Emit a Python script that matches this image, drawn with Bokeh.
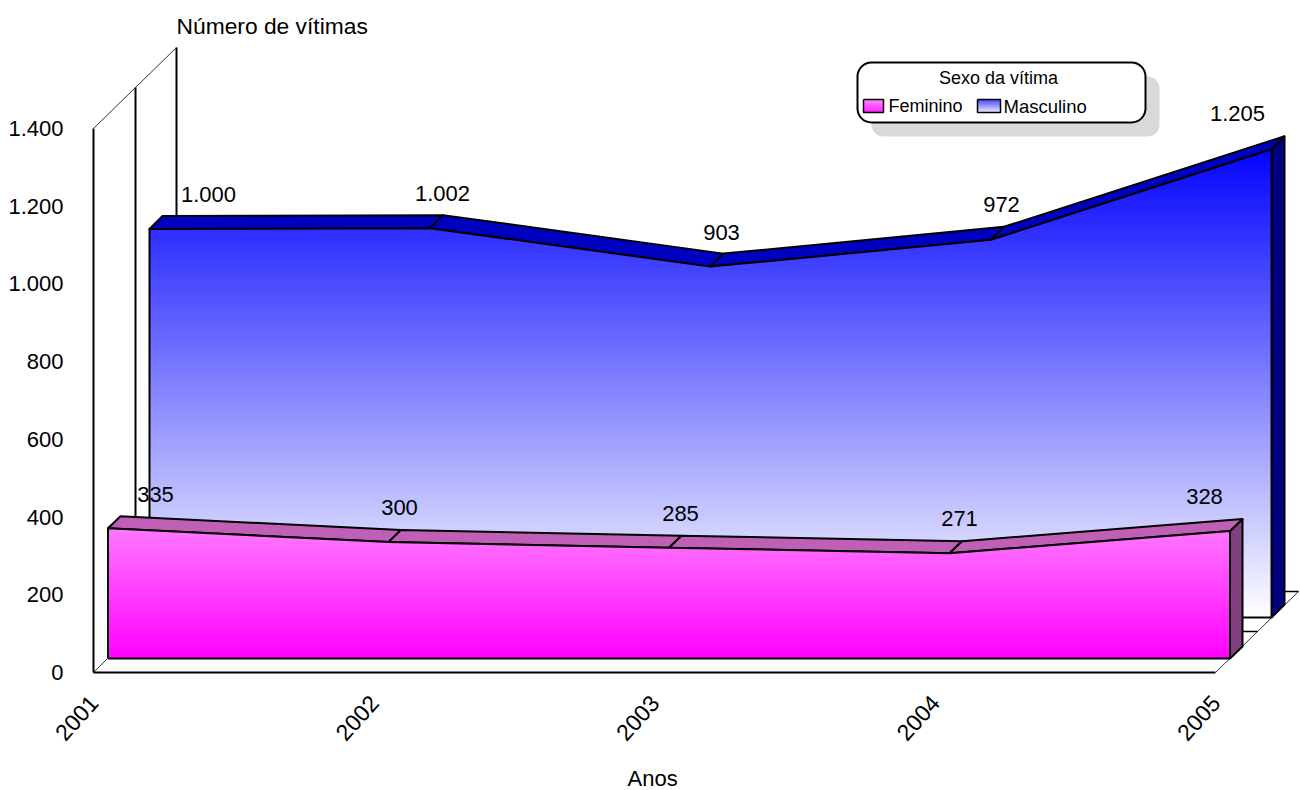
import math
import numpy as np
from bokeh.plotting import figure
from bokeh.models import (Range1d, FixedTicker, BoxAnnotation, Label, ColumnDataSource, Title)
from bokeh.core.properties import value
from bokeh.embed import file_html
from bokeh.resources import INLINE

# ---------- data ----------
years = [2001, 2002, 2003, 2004, 2005]
feminino = [335, 300, 285, 271, 328]
masculino = [1000, 1002, 903, 972, 1205]
feminino_labels = ["335", "300", "285", "271", "328"]
masculino_labels = ["1.000", "1.002", "903", "972", "1.205"]
y_ticks = [0, 200, 400, 600, 800, 1000, 1200, 1400]
y_tick_labels = ["0", "200", "400", "600", "800", "1.000", "1.200", "1.400"]
x_title = "Anos"
y_title = "Número de vítimas"
legend_title = "Sexo da vítima"
legend_names = ["Feminino", "Masculino"]

# ---------- layout ----------
W, H = 1300, 790
PAGE = 0
AX_LEFT, AX_BOTTOM = 93, 672
PX_PER_YEAR = 280.5
PX_PER_UNIT = 544 / 1400
FONT = "Liberation Sans"

def dxd(px):            # horizontal pixels to years
    return px / PX_PER_YEAR
def dyd(px):            # vertical pixels to values
    return px / PX_PER_UNIT
def sx(px):             # page x to data
    return years[0] + (px - AX_LEFT) / PX_PER_YEAR
def sy(px):             # page y to data
    return (AX_BOTTOM - px) / PX_PER_UNIT

p = figure(width=W, height=H, output_backend="svg", toolbar_location=None,
           x_range=Range1d(years[0], sx(PAGE + W)),
           y_range=Range1d(0, sy(PAGE)),
           min_border_left=AX_LEFT - PAGE, min_border_right=0, min_border_top=0,
           min_border_bottom=PAGE + H - AX_BOTTOM,
           background_fill_color="white", border_fill_color="white")
p.outline_line_color = None
p.grid.visible = False

# axes
ya = p.yaxis[0]
ya.ticker = FixedTicker(ticks=y_ticks)
ya.major_label_overrides = dict(zip(y_ticks, y_tick_labels))
ya.bounds = (y_ticks[0], y_ticks[-1])
ya.major_tick_out = 0; ya.major_tick_in = 0; ya.minor_tick_out = 0; ya.minor_tick_in = 0
ya.major_label_standoff = 30
ya.axis_line_width = 2; ya.axis_line_color = "black"
ya.major_label_text_font = FONT; ya.major_label_text_font_size = "22px"
ya.major_label_text_color = "black"

xa = p.xaxis[0]
xa.ticker = FixedTicker(ticks=years)
xa.major_label_overrides = {y: str(y) for y in years}
xa.bounds = (years[0], years[-1])
xa.major_tick_out = 0; xa.major_tick_in = 0; xa.minor_tick_out = 0; xa.minor_tick_in = 0
xa.major_label_orientation = math.radians(48)
xa.major_label_standoff = 26
xa.axis_line_width = 2; xa.axis_line_color = "black"
xa.major_label_text_font = FONT; xa.major_label_text_font_size = "23px"
xa.major_label_text_color = "black"

# a blank spacer between the tick labels and the axis title
p.add_layout(Title(text="\u00a0", standoff=0, text_font=FONT, text_font_size="9.5px",
                   text_color="white"), "below")
p.add_layout(Title(text=x_title, align="left", offset=627 - AX_LEFT, standoff=0,
                   text_font=FONT, text_font_size="22px", text_font_style="normal",
                   text_color="black"), "below")

yr0, yr1 = years[0], years[-1]
top_val = y_ticks[-1]

# walls and floor
for (dx, dy) in [(42, 41), (83, 81)]:
    p.line([yr0 + dxd(dx)] * 2, [dyd(dy), top_val + dyd(dy)], line_color="black", line_width=2)
    p.line([yr0 + dxd(dx), yr1 + dxd(dx)], [dyd(dy), dyd(dy)], line_color="black", line_width=1.5)
p.line([yr0, yr0 + dxd(83)], [top_val, top_val + dyd(81)], line_color="#333333", line_width=1)
p.line([yr1, yr1 + dxd(83)], [0, dyd(81)], line_color="#333333", line_width=1)
p.line([yr0, yr0 + dxd(14)], [0, dyd(14)], line_color="#333333", line_width=1)


def mix(rgb, t):
    """t=0 colour itself, t=1 white"""
    t = min(max(t, 0), 1)
    return "#%02x%02x%02x" % tuple(int(round(c + (255 - c) * t)) for c in rgb)


def clipped(xs, ys, level):
    ox, oy = [], []
    for i in range(len(xs)):
        ox.append(xs[i]); oy.append(min(ys[i], level))
        if i + 1 < len(xs) and (ys[i] - level) * (ys[i + 1] - level) < 0:
            f = (level - ys[i]) / (ys[i + 1] - ys[i])
            ox.append(xs[i] + f * (xs[i + 1] - xs[i])); oy.append(level)
    return ox, oy


def area3d(vals, front, back, top_col, side_col, colour_at):
    fx = [y + dxd(front[0]) for y in years]
    bx = [y + dxd(back[0]) for y in years]
    fy = [v + dyd(front[1]) for v in vals]
    by = [v + dyd(back[1]) for v in vals]
    base_f = dyd(front[1]); base_b = dyd(back[1])
    # right side face
    p.patch([fx[-1], bx[-1], bx[-1], fx[-1]], [fy[-1], by[-1], base_b, base_f],
            fill_color=side_col, line_color="black", line_width=2)
    # top surfaces
    p.patches([[fx[i], fx[i + 1], bx[i + 1], bx[i]] for i in range(len(vals) - 1)],
              [[fy[i], fy[i + 1], by[i + 1], by[i]] for i in range(len(vals) - 1)],
              fill_color=top_col, line_color="black", line_width=2, line_join="round")
    # gradient front: stacked from highest level to lowest, no seams
    levels = np.arange(max(vals), 0, -dyd(1.5))
    pxs, pys, cols = [], [], []
    for lv in levels:
        cx, cy = clipped(fx, [v for v in vals], lv)
        pxs.append([fx[0]] + cx + [fx[-1]])
        pys.append([base_f] + [c + base_f for c in cy] + [base_f])
        cols.append(colour_at(lv))
    p.patches(pxs, pys, fill_color=cols, line_color=None)
    # outline of the front
    p.line([fx[0]] + fx + [fx[-1], fx[0]], [base_f] + fy + [base_f, base_f],
           line_color="black", line_width=2, line_join="round")
    return fx, fy


MAG = (255, 0, 255)
BLU = (0, 0, 255)
mx, my = area3d(masculino, (56, 55), (69, 68), "#0000c0", "#000080",
                lambda v: mix(BLU, 1 - v / max(masculino) * 0.985))
fx, fy = area3d(feminino, (14.5, 14), (27, 26), "#bf5fb5", "#804080",
                lambda v: mix(MAG, v / max(feminino) * 0.47))

# value labels
ms = ColumnDataSource(dict(x=mx, y=my, t=masculino_labels,
                           ox=[59, 12.5, 11, 10.5, -34], oy=[-34, -35, -34, -35, -36]))
fs = ColumnDataSource(dict(x=fx, y=fy, t=feminino_labels,
                           ox=[47.5, 11, 11.5, 10, -25.5], oy=[-34, -34, -34, -35, -34.5]))
for s in (ms, fs):
    p.text("x", "y", text="t", source=s, x_offset="ox", y_offset="oy",
           text_font=value(FONT), text_font_size="22px", text_color="black",
           text_align="center", text_baseline="middle")

# y axis title
p.add_layout(Label(x=sx(176), y=sy(25), text=y_title, text_font=FONT, text_font_size="22.8px",
                   text_color="black", text_align="left", text_baseline="middle"))

# legend
p.add_layout(BoxAnnotation(left=sx(871), right=sx(1159), top=sy(76), bottom=sy(136),
                           fill_color="#d9d9d9", fill_alpha=1, line_color=None,
                           border_radius=12, level="underlay"))
p.add_layout(BoxAnnotation(left=sx(857), right=sx(1145), top=sy(62), bottom=sy(122),
                           fill_color="white", fill_alpha=1, line_color="black", line_alpha=1,
                           line_width=2, border_radius=14, level="underlay"))
p.add_layout(Label(x=sx(998), y=sy(77), text=legend_title, text_font=FONT, text_font_size="18px",
                   text_color="black", text_align="center", text_baseline="middle"))
p.add_layout(Label(x=sx(888), y=sy(105.5), text=legend_names[0], text_font=FONT, text_font_size="18px",
                   text_color="black", text_align="left", text_baseline="middle"))
p.add_layout(Label(x=sx(1003), y=sy(105.5), text=legend_names[1], text_font=FONT, text_font_size="18.5px",
                   text_color="black", text_align="left", text_baseline="middle"))

def swatch(x0, x1, y0, y1, col):
    n = int(y1 - y0)
    for i in range(n):
        p.quad(left=sx(x0), right=sx(x1), top=sy(y0 + i), bottom=sy(y0 + i + 1.3),
               fill_color=col(i / n), line_color=None)
    p.line([sx(x0), sx(x1), sx(x1), sx(x0), sx(x0)], [sy(y0), sy(y0), sy(y1), sy(y1), sy(y0)],
           line_color="black", line_width=1.5)

swatch(863, 883, 99, 112, lambda t: mix(MAG, (1 - t) * 0.45))
swatch(977, 1000, 99, 112, lambda t: mix(BLU, 0.2 + t * 0.75))

open("out.html", "w").write(file_html(p, INLINE))
